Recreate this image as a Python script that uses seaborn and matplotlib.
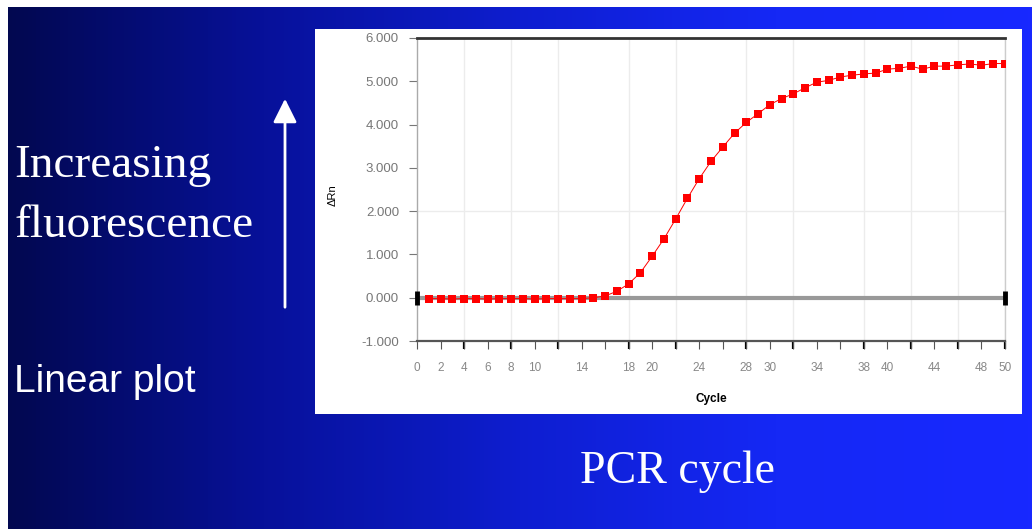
import numpy as np
import matplotlib
matplotlib.use("Agg")
import matplotlib.pyplot as plt
from matplotlib.colors import LinearSegmentedColormap
from matplotlib.patches import Rectangle
import seaborn as sns

# ── Data ──────────────────────────────────────────────────────────────────────
cycles = list(range(1, 51))
delta_rn = [
    -0.02, -0.02, -0.03, -0.02, -0.02, -0.03, -0.02, -0.02, -0.02, -0.03,
    -0.02, -0.02, -0.02, -0.02, 0.00, 0.04, 0.15, 0.32, 0.58, 0.96,
    1.36, 1.82, 2.30, 2.75, 3.15, 3.48, 3.80, 4.05, 4.25, 4.46,
    4.60, 4.71, 4.85, 4.98, 5.02, 5.10, 5.14, 5.17, 5.19, 5.28,
    5.30, 5.35, 5.28, 5.35, 5.35, 5.38, 5.40, 5.37, 5.41, 5.41,
]
threshold_level = 0.0
threshold_span = [0, 50]

x_tick_pos = list(range(0, 51, 2))
x_tick_text = ["0", "2", "4", "6", "8", "10", "", "14", "", "18", "20", "", "24",
               "", "28", "30", "", "34", "", "38", "40", "", "44", "", "48", "50"]
grid_cycles = [4, 8, 12, 18, 22, 28, 32, 38, 42, 46, 50]
y_tick_pos = [-1, 0, 1, 2, 3, 4, 5, 6]
y_grid = [2]

# ── Figure / slide background ─────────────────────────────────────────────────
sns.set_theme(style="white")
plt.rcParams["font.family"] = ["Liberation Sans", "DejaVu Sans"]

W, H = 1032, 529
fig = plt.figure(figsize=(W / 100, H / 100), dpi=100)

bg = fig.add_axes([0, 0, 1, 1], zorder=0)
bg.set_xlim(0, W)
bg.set_ylim(H, 0)
bg.axis("off")
slide = LinearSegmentedColormap.from_list(
    "slide", ["#020850", "#07119a", "#0e1ed0", "#1528f5", "#1828ff"])
grad = np.linspace(0, 1, 256).reshape(1, -1)
bg.imshow(grad, cmap=slide, aspect="auto", extent=[8, W, H, 7], zorder=0)
bg.add_patch(Rectangle((315, 29), 707, 385, facecolor="white", edgecolor="none", zorder=1))

serif = ["Liberation Serif", "DejaVu Serif"]
bg.text(14, 177, "Increasing", color="white", fontsize=34, family=serif, va="baseline", zorder=2)
bg.text(14, 237, "fluorescence", color="white", fontsize=34, family=serif, va="baseline", zorder=2)
bg.text(14, 392, "Linear plot", color="white", fontsize=28, va="baseline", zorder=2)
bg.text(580, 483, "PCR cycle", color="white", fontsize=33, family=serif, va="baseline", zorder=2)
bg.annotate("", xy=(285, 96), xytext=(285, 310),
            arrowprops=dict(arrowstyle="-|>,head_length=0.8,head_width=0.4",
                            color="white", lw=2, mutation_scale=18), zorder=2)
bg.text(333, 195, "ΔRn", rotation=90, fontsize=8, color="black", ha="center", va="center", zorder=2)

# ── Amplification plot ────────────────────────────────────────────────────────
ax = fig.add_axes([417 / W, 188 / H, 588 / W, 303 / H], zorder=1)
ax.set_facecolor("white")

ax.vlines(grid_cycles, -1, 6, color="#ececec", lw=1, zorder=0)
ax.hlines(y_grid, 0, 50, color="#ececec", lw=1, zorder=0)

ax.plot(threshold_span, [threshold_level] * 2, color="#999999", lw=3, zorder=2,
        solid_capstyle="butt")
ax.plot(threshold_span, [threshold_level] * 2, ls="none", marker="|", color="black",
        ms=10, mew=3.5, zorder=3, clip_on=False)

sns.lineplot(x=cycles, y=delta_rn, ax=ax, color="#ff0000", lw=0.7, marker="s",
             markersize=6, markeredgewidth=0, zorder=4)

ax.set_xlim(0, 50)
ax.set_ylim(-1, 6)

ax.xaxis.remove_overlapping_locs = False
ax.set_xticks(grid_cycles)
ax.set_xticks(x_tick_pos, minor=True)
ax.set_xticklabels(x_tick_text, minor=True)
ax.tick_params(axis="x", which="major", length=6, width=1.6, color="black",
               labelbottom=False, direction="out", bottom=True)
ax.tick_params(axis="x", which="minor", length=6, width=0.8, color="#555555",
               labelsize=8.5, labelcolor="#888888", pad=9, direction="out", bottom=True)

ax.set_yticks(y_tick_pos)
ax.set_yticklabels([f"{v:.3f}" for v in y_tick_pos])
ax.tick_params(axis="y", length=6, width=0.8, color="#777777", labelsize=9.5,
               labelcolor="#777777", pad=7, direction="out", left=True)

ax.set_xlabel("Cycle", fontsize=8.5, color="black", fontweight="bold", labelpad=14)
ax.set_ylabel("")

for side, (col, lw) in {"top": ("#333333", 2), "bottom": ("#555555", 1.6),
                        "left": ("#aaaaaa", 1), "right": ("#cccccc", 1)}.items():
    ax.spines[side].set_visible(True)
    ax.spines[side].set_color(col)
    ax.spines[side].set_linewidth(lw)

fig.savefig("out.png", dpi=100)
